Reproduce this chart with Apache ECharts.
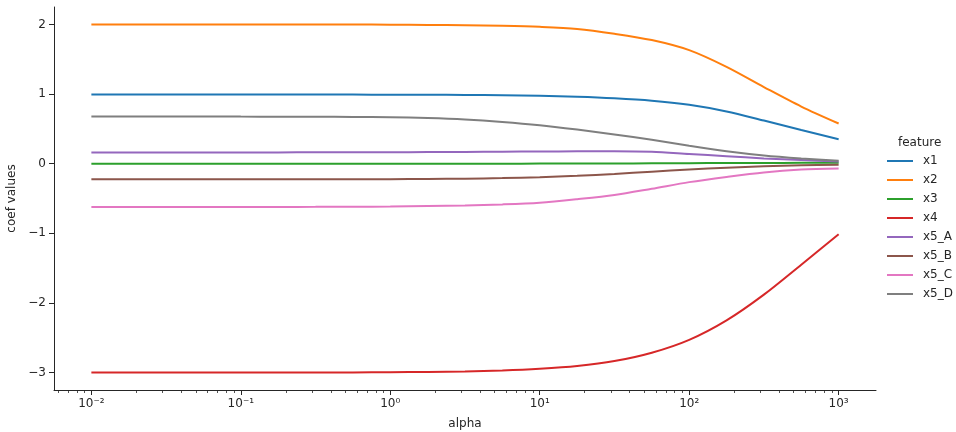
<!DOCTYPE html>
<html>
<head>
<meta charset="utf-8">
<script src="https://cdn.jsdelivr.net/npm/echarts@6/dist/echarts.min.js"></script>
<style>
html,body{margin:0;padding:0;background:#fff;}
#chart{width:956px;height:432px;}
</style>
</head>
<body>
<div id="chart"></div>
<script>
// ---- data ----
const alpha = [0.01, 0.0178, 0.0316, 0.0562, 0.1, 0.178, 0.316, 0.562, 1, 1.78, 3.16, 5.62,
               10, 17.8, 31.6, 56.2, 100, 177.8, 316.2, 562.3, 1000];
const featureNames = ['x1', 'x2', 'x3', 'x4', 'x5_A', 'x5_B', 'x5_C', 'x5_D'];
const x1   = [0.993, 0.993, 0.993, 0.993, 0.993, 0.993, 0.993, 0.992, 0.991, 0.990, 0.988, 0.983,
              0.975, 0.962, 0.940, 0.905, 0.845, 0.750, 0.620, 0.485, 0.352];
const x2   = [2.000, 2.000, 2.000, 2.000, 2.000, 1.999, 1.999, 1.998, 1.996, 1.993, 1.988, 1.980,
              1.965, 1.935, 1.866, 1.775, 1.630, 1.390, 1.100, 0.820, 0.577];
const x3   = [0.000, 0.000, 0.000, 0.000, 0.000, 0.000, 0.000, 0.000, 0.000, 0.000, 0.000, 0.000,
              0.001, 0.002, 0.003, 0.005, 0.007, 0.009, 0.011, 0.012, 0.013];
const x4   = [-3.000, -3.000, -3.000, -3.000, -3.000, -2.999, -2.998, -2.997, -2.995, -2.991, -2.984, -2.970,
              -2.945, -2.905, -2.835, -2.715, -2.530, -2.250, -1.880, -1.450, -1.013];
const x5_A = [0.162, 0.162, 0.162, 0.162, 0.162, 0.162, 0.163, 0.164, 0.165, 0.167, 0.169, 0.172,
              0.175, 0.178, 0.180, 0.172, 0.140, 0.108, 0.075, 0.052, 0.030];
const x5_B = [-0.225, -0.225, -0.225, -0.225, -0.225, -0.225, -0.224, -0.223, -0.222, -0.219, -0.215, -0.207,
              -0.195, -0.175, -0.148, -0.115, -0.085, -0.058, -0.038, -0.024, -0.016];
const x5_C = [-0.622, -0.622, -0.622, -0.622, -0.621, -0.621, -0.620, -0.618, -0.615, -0.609, -0.600, -0.585,
              -0.560, -0.510, -0.450, -0.360, -0.265, -0.190, -0.125, -0.085, -0.070];
const x5_D = [0.677, 0.677, 0.677, 0.677, 0.676, 0.675, 0.674, 0.672, 0.668, 0.656, 0.635, 0.600,
              0.553, 0.490, 0.420, 0.343, 0.257, 0.180, 0.119, 0.076, 0.042];
const seriesValues = [x1, x2, x3, x4, x5_A, x5_B, x5_C, x5_D];
const colors = ['#1f77b4', '#ff7f0e', '#2ca02c', '#d62728', '#9467bd', '#8c564b', '#e377c2', '#7f7f7f'];

// tick labels
const xMajorExp = [-2, -1, 0, 1, 2, 3];
const xTickLabels = ['10\u207B\u00B2', '10\u207B\u00B9', '10\u2070', '10\u00B9', '10\u00B2', '10\u00B3'];
const yTicks = [-3, -2, -1, 0, 1, 2];
const yTickLabels = ['\u22123', '\u22122', '\u22121', '0', '1', '2'];

const xMinExp = -2.25, xMaxExp = 3.25;
const yMin = -3.25, yMax = 2.25;

// minor tick positions (exponent space) for the log axis decoration
const xMinorExp = [];
for (let n = -3; n <= 2; n++) {
  for (let k = 2; k <= 9; k++) {
    const e = n + Math.log10(k);
    if (e > xMinExp && e < xMaxExp) xMinorExp.push(e);
  }
}

const ink = '#262626';
const font = 'DejaVu Sans';

const chart = echarts.init(document.getElementById('chart'), null, {renderer: 'canvas'});
const option = {
  animation: false,
  backgroundColor: '#ffffff',
  textStyle: {fontFamily: font, color: ink},
  grid: {left: 54, top: 7, right: 80, bottom: 42, outerBoundsMode: 'none'},
  title: {
    text: 'feature', left: 898, top: 137, padding: 0,
    textStyle: {fontFamily: font, fontSize: 12, fontWeight: 'normal', color: ink}
  },
  legend: {
    orient: 'vertical', left: 887, top: 154, padding: 0,
    icon: 'rect', itemWidth: 26, itemHeight: 2, itemGap: 5,
    textStyle: {fontFamily: font, fontSize: 12, color: ink, lineHeight: 14, padding: [0, 0, 0, 5]},
    data: featureNames
  },
  xAxis: [
    {
      type: 'log', logBase: 10, position: 'bottom',
      min: Math.pow(10, xMinExp), max: Math.pow(10, xMaxExp),
      axisLine: {show: true, onZero: false, lineStyle: {color: ink, width: 1}},
      axisTick: {show: false}, axisLabel: {show: false},
      splitLine: {show: false}, minorTick: {show: false}
    },
    {
      type: 'value', position: 'bottom', min: xMinExp, max: xMaxExp,
      axisLine: {show: false, onZero: false},
      axisTick: {show: true, customValues: xMajorExp, length: 5, lineStyle: {color: ink, width: 1}},
      axisLabel: {
        show: true, customValues: xMajorExp, margin: 8,
        fontFamily: font, fontSize: 12, color: ink,
        formatter: v => xTickLabels[xMajorExp.indexOf(Math.round(v))]
      },
      splitLine: {show: false},
      name: 'alpha', nameLocation: 'middle', nameGap: 28,
      nameTextStyle: {fontFamily: font, fontSize: 12, color: ink}
    },
    {
      type: 'value', position: 'bottom', min: xMinExp, max: xMaxExp,
      axisLine: {show: false, onZero: false},
      axisTick: {show: true, customValues: xMinorExp, length: 3, lineStyle: {color: ink, width: 0.8}},
      axisLabel: {show: false},
      splitLine: {show: false}
    }
  ],
  yAxis: [
    {
      type: 'value', position: 'left', min: yMin, max: yMax,
      axisLine: {show: true, onZero: false, lineStyle: {color: ink, width: 1}},
      axisTick: {show: true, customValues: yTicks, length: 5, lineStyle: {color: ink, width: 1}},
      axisLabel: {
        show: true, customValues: yTicks, margin: 8,
        fontFamily: font, fontSize: 12, color: ink,
        formatter: v => yTickLabels[yTicks.indexOf(Math.round(v))]
      },
      splitLine: {show: false},
      name: 'coef values', nameLocation: 'middle', nameGap: 27,
      nameTextStyle: {fontFamily: font, fontSize: 12, color: ink}
    }
  ],
  series: featureNames.map((name, i) => ({
    name: name,
    type: 'line',
    xAxisIndex: 0,
    yAxisIndex: 0,
    data: alpha.map((a, j) => [a, seriesValues[i][j]]),
    showSymbol: false,
    symbol: 'none',
    smooth: 0.3,
    color: colors[i],
    lineStyle: {color: colors[i], width: 2},
    itemStyle: {color: colors[i]},
    emphasis: {disabled: true}
  }))
};
chart.setOption(option);
</script>
</body>
</html>
